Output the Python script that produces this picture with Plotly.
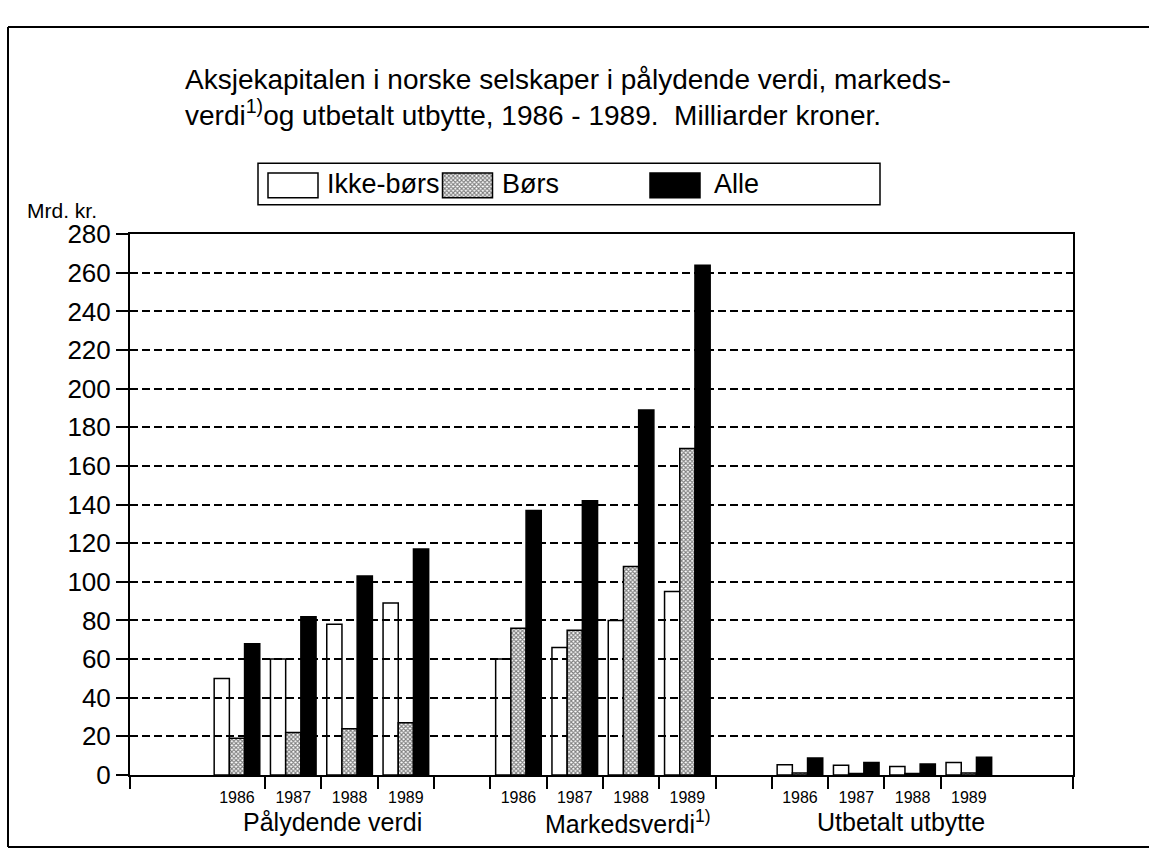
import plotly.graph_objects as go

# ---------------- data ----------------
years = ["1986", "1987", "1988", "1989"]
groups = ["Pålydende verdi", "Markedsverdi<sup>1)</sup>", "Utbetalt utbytte"]
series_names = ["Ikke-børs", "Børs", "Alle"]

ikke_bors = [50, 60, 78, 89, 60, 66, 80, 95, 5.3, 5.0, 4.4, 6.5]
bors = [19, 22, 24, 27, 76, 75, 108, 169, 1.0, 0.8, 0.8, 1.0]
alle = [68, 82, 103, 117, 137, 142, 189, 264, 8.8, 6.5, 5.7, 9.2]

y_ticks = list(range(0, 281, 20))

# ---------------- layout helpers ----------------
FONT = "Liberation Sans, Arial, Helvetica, sans-serif"
W, H = 1149, 856
ML, MR, MT, MB = 130, 76, 17, 81
PW, PH = W - ML - MR, H - MT - MB


def px_x(px):
    return (px - ML) / PW


def px_y(py):
    return (H - MB - py) / PH


slots_per_group = 5
slot_idx = [g * slots_per_group + i for g in range(len(groups)) for i in range(len(years))]
offsets = [0.23, 0.5, 0.77]
bar_w = 0.27

hatch = dict(shape="x", size=3, solidity=0.6, fgcolor="black", bgcolor="white", fillmode="overlay")
styles = [
    dict(color="rgba(255,255,255,0)", line=dict(color="black", width=1.5)),
    dict(color="white", pattern=hatch, line=dict(color="black", width=1.5)),
    dict(color="black", line=dict(color="black", width=1.5)),
]

fig = go.Figure()
for name, vals, off, st in zip(series_names, [ikke_bors, bors, alle], offsets, styles):
    fig.add_trace(go.Bar(
        x=[s + off for s in slot_idx], y=vals, width=bar_w, name=name,
        marker=st, showlegend=False, hoverinfo="skip",
    ))

# legend swatches on a helper axis
sw_x = [293, 467.5, 675]
for xc, st, name in zip(sw_x, styles, series_names):
    fig.add_trace(go.Bar(
        x=[xc], y=[25], base=[7], width=50, marker=st, showlegend=False,
        xaxis="x3", yaxis="y3", hoverinfo="skip", name=name,
    ))

x_range = [-1.4, 15.35]
year_centers = [s + 0.5 for s in slot_idx]
year_labels = years * len(groups)
boundary_ticks = [x_range[0]] + list(range(1, 14)) + [x_range[1]]

fig.update_layout(
    width=W, height=H,
    margin=dict(l=ML, r=MR, t=MT, b=MB),
    paper_bgcolor="white", plot_bgcolor="white",
    font=dict(family=FONT, color="black"),
    barmode="overlay",
    showlegend=False,
    xaxis=dict(
        range=x_range, showgrid=False, zeroline=False,
        showline=True, linecolor="black", linewidth=2, mirror=True,
        tickmode="array", tickvals=year_centers, ticktext=year_labels,
        ticks="", tickfont=dict(size=16, family=FONT), ticklabelstandoff=7,
        minor=dict(tickmode="array", tickvals=boundary_ticks, ticks="outside",
                   ticklen=12, tickwidth=1.5, tickcolor="black", showgrid=False),
    ),
    yaxis=dict(
        domain=[0, px_y(227)], range=[0, 280],
        tickmode="array", tickvals=y_ticks,
        ticks="outside", ticklen=12, tickwidth=1.5, tickcolor="black",
        tickfont=dict(size=26, family=FONT),
        showgrid=True, gridcolor="black", gridwidth=1.8, griddash="8px,4px",
        showline=True, linecolor="black", linewidth=2, mirror=True, zeroline=False,
    ),
    xaxis3=dict(domain=[px_x(258), px_x(880)], range=[258, 880], visible=False,
                anchor="y3", fixedrange=True),
    yaxis3=dict(domain=[px_y(197), px_y(155)], range=[0, 42], visible=False,
                anchor="x3", fixedrange=True),
)

ann = []
ann.append(dict(text="Aksjekapitalen i norske selskaper i pålydende verdi, markeds-",
                x=px_x(183), y=px_y(70), xref="paper", yref="paper",
                xanchor="left", yanchor="middle", showarrow=False,
                font=dict(size=28, family=FONT)))
ann.append(dict(text="verdi<sup>1)</sup>og utbetalt utbytte, 1986 - 1989.&nbsp; Milliarder kroner.",
                x=px_x(183), y=px_y(104), xref="paper", yref="paper",
                xanchor="left", yanchor="middle", showarrow=False,
                font=dict(size=28, family=FONT)))
ann.append(dict(text="Mrd. kr.", x=px_x(25), y=px_y(203), xref="paper", yref="paper",
                xanchor="left", yanchor="middle", showarrow=False,
                font=dict(size=21, family=FONT)))
for lbl, lx in zip(series_names, [325, 500, 712]):
    ann.append(dict(text=lbl, x=px_x(lx), y=px_y(176), xref="paper", yref="paper",
                    xanchor="left", yanchor="middle", showarrow=False,
                    font=dict(size=27, family=FONT)))
for lbl, gx in zip(groups, [2.2, 7.45, 12.3]):
    ann.append(dict(text=lbl, x=gx, y=px_y(823), xref="x", yref="paper",
                    xanchor="center", yanchor="middle", showarrow=False,
                    font=dict(size=25, family=FONT)))
fig.update_layout(annotations=ann)

shapes = [
    # legend box
    dict(type="rect", xref="paper", yref="paper",
         x0=px_x(258), x1=px_x(880), y0=px_y(197), y1=px_y(155),
         line=dict(color="black", width=1.5)),
    # outer frame
    dict(type="line", xref="paper", yref="paper", x0=px_x(8), x1=px_x(8),
         y0=px_y(848), y1=px_y(17), line=dict(color="black", width=2)),
    dict(type="line", xref="paper", yref="paper", x0=px_x(8), x1=px_x(1152),
         y0=px_y(17), y1=px_y(17), line=dict(color="black", width=2)),
    dict(type="line", xref="paper", yref="paper", x0=px_x(8), x1=px_x(1152),
         y0=px_y(848), y1=px_y(848), line=dict(color="black", width=2)),
]
fig.update_layout(shapes=shapes)

fig.write_html(
    "out.html",
    config={"displayModeBar": False},
    post_script="document.body.style.margin='0';document.body.style.overflow='hidden';",
)
